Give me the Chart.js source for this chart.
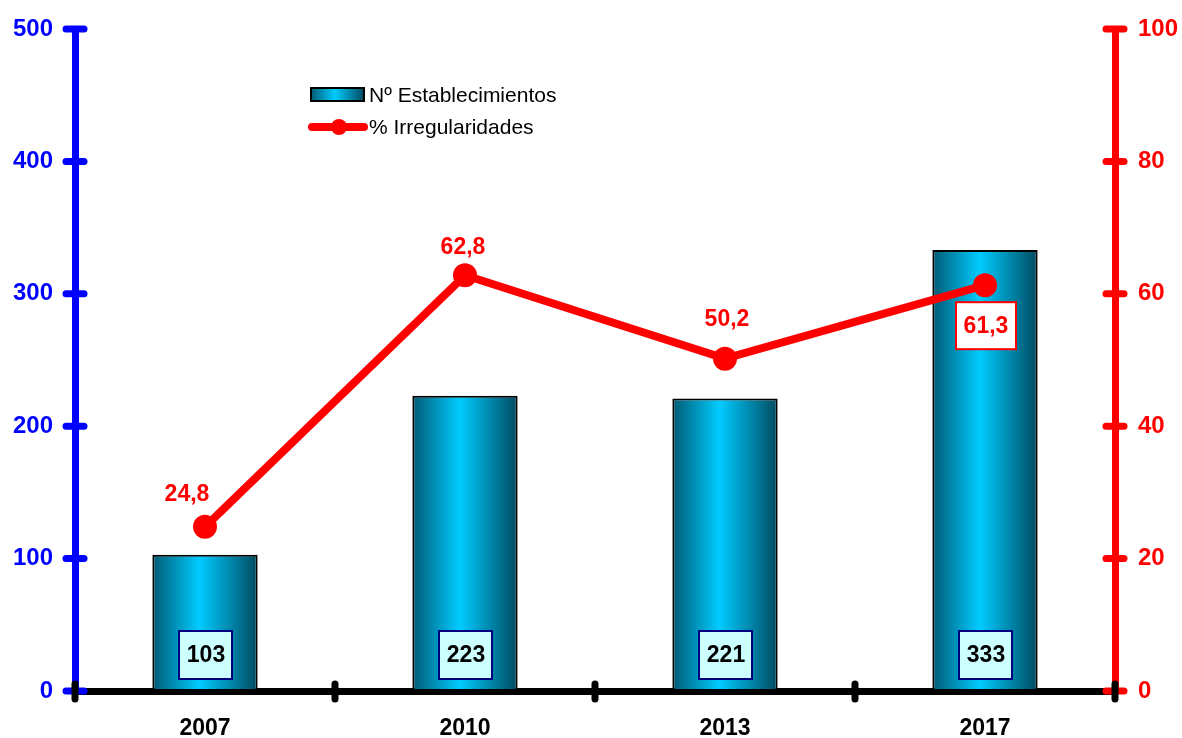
<!DOCTYPE html>
<html>
<head>
<meta charset="utf-8">
<script src="https://cdn.jsdelivr.net/npm/chart.js@4/dist/chart.umd.min.js"></script>
<style>
  html, body { margin: 0; padding: 0; background: #fff; }
  #wrap { width: 1182px; height: 738px; }
</style>
</head>
<body>
<div id="wrap"><canvas id="myChart"></canvas></div>
<script>
const years = ["2007", "2010", "2013", "2017"];
const establecimientos = [103, 223, 221, 333];
const irregularidades = [24.8, 62.8, 50.2, 61.3];
const leftTicks = [0, 100, 200, 300, 400, 500];
const rightTicks = [0, 20, 40, 60, 80, 100];

const FONT = "'Liberation Sans', Arial, sans-serif";
const BAR_PCT = 0.405;

function cylinder(c, x0, x1) {
  const g = c.createLinearGradient(x0, 0, x1, 0);
  g.addColorStop(0, "#005a74");
  g.addColorStop(0.45, "#00ccff");
  g.addColorStop(1, "#004a60");
  return g;
}

function formatComma(v) {
  return v.toFixed(1).replace(".", ",");
}

// fixed axis sizes, no extra room reserved for the end labels
function fixSize(w, h) {
  return (s) => {
    if (w) s.width = w;
    if (h) s.height = h;
    s.paddingTop = 0;
    s.paddingBottom = 0;
    s.paddingLeft = 0;
    s.paddingRight = 0;
  };
}

// give each bar its own horizontal shading once the bar geometry is known
const shading = {
  id: "shading",
  beforeDatasetsDraw(chart) {
    const meta = chart.getDatasetMeta(1);
    meta.data.forEach((bar) => {
      const half = bar.width / 2;
      if (isFinite(bar.x) && isFinite(half)) {
        bar.options.backgroundColor = cylinder(chart.ctx, bar.x - half, bar.x + half);
      }
    });
  },
};

const decor = {
  id: "decor",
  afterDraw(chart) {
    const c = chart.ctx;
    const { x, y, y1 } = chart.scales;
    c.save();
    c.lineCap = "round";

    // left axis ticks
    c.strokeStyle = "#0000ff";
    c.lineWidth = 7;
    leftTicks.forEach((t) => {
      const py = y.getPixelForValue(t);
      c.beginPath();
      c.moveTo(x.left - 9, py);
      c.lineTo(x.left + 9, py);
      c.stroke();
    });
    // right axis ticks
    c.strokeStyle = "#ff0000";
    rightTicks.forEach((t) => {
      const py = y1.getPixelForValue(t);
      c.beginPath();
      c.moveTo(x.right - 9, py);
      c.lineTo(x.right + 9, py);
      c.stroke();
    });
    // category boundary ticks
    c.strokeStyle = "#000";
    const step = x.width / years.length;
    for (let i = 0; i <= years.length; i++) {
      const px = x.left + step * i;
      c.beginPath();
      c.moveTo(px, y.bottom - 7);
      c.lineTo(px, y.bottom + 8);
      c.stroke();
    }

    // bar value boxes
    c.lineCap = "butt";
    c.font = "bold 23px " + FONT;
    c.textAlign = "center";
    c.textBaseline = "middle";
    establecimientos.forEach((v, i) => {
      const px = x.getPixelForValue(i);
      const py = y.getPixelForValue(0) - 36;
      c.fillStyle = "#ccffff";
      c.fillRect(px - 26, py - 24, 53, 48);
      c.strokeStyle = "#000080";
      c.lineWidth = 2;
      c.strokeRect(px - 26, py - 24, 53, 48);
      c.fillStyle = "#000";
      c.fillText(String(v), px + 1, py + 1);
    });

    // line value labels
    const meta = chart.getDatasetMeta(0);
    const offsets = [[-18, -33], [-2, -29], [2, -40], [1, 40]];
    meta.data.forEach((pt, i) => {
      const lx = pt.x + offsets[i][0];
      const ly = pt.y + offsets[i][1];
      const txt = formatComma(irregularidades[i]);
      if (i === 3) {
        c.fillStyle = "#fff";
        c.fillRect(lx - 30, ly - 23, 60, 47);
        c.strokeStyle = "#ff0000";
        c.lineWidth = 2;
        c.strokeRect(lx - 30, ly - 23, 60, 47);
      }
      c.fillStyle = "#ff0000";
      c.fillText(txt, lx, ly + 1);
    });

    // legend
    c.fillStyle = cylinder(c, 311, 364);
    c.fillRect(311, 88, 53, 13);
    c.strokeStyle = "#000";
    c.lineWidth = 2;
    c.strokeRect(311, 88, 53, 13);
    c.strokeStyle = "#ff0000";
    c.lineWidth = 8;
    c.lineCap = "round";
    c.beginPath();
    c.moveTo(312, 127);
    c.lineTo(364, 127);
    c.stroke();
    c.fillStyle = "#ff0000";
    c.beginPath();
    c.arc(339, 127, 8, 0, Math.PI * 2);
    c.fill();
    c.fillStyle = "#000";
    c.font = "21px " + FONT;
    c.textAlign = "left";
    c.fillText("Nº Establecimientos", 369, 96);
    c.fillText("% Irregularidades", 369, 128);
    c.restore();
  },
};

const chart = new Chart(document.getElementById("myChart"), {
  data: {
    labels: years,
    datasets: [
      {
        type: "line",
        label: "% Irregularidades",
        data: irregularidades,
        yAxisID: "y1",
        borderColor: "#ff0000",
        backgroundColor: "#ff0000",
        borderWidth: 8,
        pointRadius: 12,
        pointBorderWidth: 0,
        tension: 0,
        order: 0,
      },
      {
        type: "bar",
        label: "Nº Establecimientos",
        data: establecimientos,
        yAxisID: "y",
        // scriptable so every bar gets its own options object
        backgroundColor: () => "#00ccff",
        borderColor: "#000",
        borderWidth: 2,
        borderSkipped: false,
        categoryPercentage: 1,
        barPercentage: BAR_PCT,
        order: 1,
      },
    ],
  },
  options: {
    responsive: true,
    maintainAspectRatio: false,
    animation: false,
    layout: { padding: { top: 29, left: 0, right: 0, bottom: 0 } },
    plugins: { legend: { display: false }, tooltip: { enabled: false } },
    scales: {
      x: {
        offset: true,
        grid: { display: false, drawTicks: false },
        border: { color: "#000", width: 7 },
        ticks: {
          color: "#000",
          padding: 24,
          font: { family: FONT, size: 23, weight: "bold" },
        },
        afterFit: fixSize(0, 47),
      },
      y: {
        position: "left",
        min: 0,
        max: 500,
        grid: { display: false, drawTicks: false },
        border: { color: "#0000ff", width: 7 },
        ticks: {
          stepSize: 100,
          color: "#0000ff",
          padding: 22,
          font: { family: FONT, size: 24, weight: "bold" },
        },
        afterFit: fixSize(75, 0),
      },
      y1: {
        position: "right",
        min: 0,
        max: 100,
        grid: { display: false, drawTicks: false },
        border: { color: "#ff0000", width: 7 },
        ticks: {
          stepSize: 20,
          color: "#ff0000",
          padding: 23,
          font: { family: FONT, size: 24, weight: "bold" },
        },
        afterFit: fixSize(67, 0),
      },
    },
  },
  plugins: [shading, decor],
});
</script>
</body>
</html>
